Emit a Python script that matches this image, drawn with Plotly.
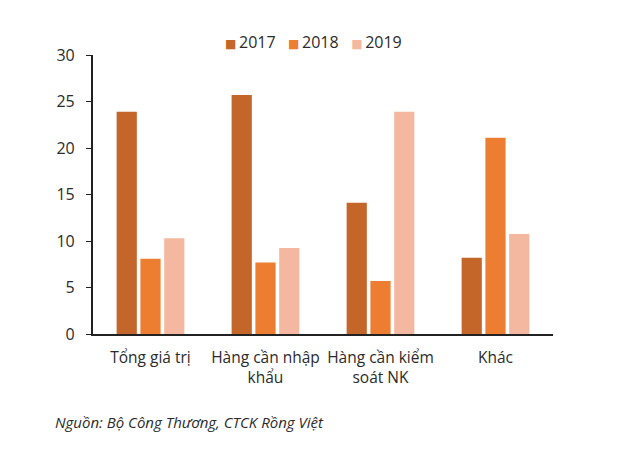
import plotly.graph_objects as go

categories = ["Tổng giá trị", "Hàng cần nhập<br>khẩu", "Hàng cần kiểm<br>soát NK", "Khác"]
years = ["2017", "2018", "2019"]
values_2017 = [23.9, 25.7, 14.1, 8.2]
values_2018 = [8.1, 7.7, 5.7, 21.1]
values_2019 = [10.3, 9.25, 23.9, 10.75]
colors = ["#C4652A", "#ED7D31", "#F4B8A1"]

fig = go.Figure()
for name, vals, col in zip(years, [values_2017, values_2018, values_2019], colors):
    fig.add_trace(go.Bar(x=categories, y=vals, name=name, marker_color=col,
                         marker_line_width=0))

# compact legend as one line of text (plotly's own legend spaces items too wide)
legend_text = "\u00a0\u00a0\u00a0".join(
    "<span style='color:%s;font-family:DejaVu Sans;font-size:12px'>\u25a0</span>"
    "\u2009%s" % (c, y)
    for y, c in zip(years, colors))

# page body has an 8px default margin, so the figure is a bit smaller than the window
font_family = "Open Sans, DejaVu Sans, sans-serif"
fig.update_layout(
    width=622, height=443,
    margin=dict(l=85, r=77, t=47, b=117, autoexpand=False),
    paper_bgcolor="white", plot_bgcolor="white",
    font=dict(family=font_family, size=15, color="#2b2b2b"),
    barmode="group", bargap=0.38, bargroupgap=0.15,
    showlegend=False,
    xaxis=dict(showline=True, linecolor="#222", linewidth=2, ticks="",
               tickfont=dict(size=15.5), showgrid=False, automargin=False,
               ticklabelstandoff=8),
    yaxis=dict(range=[0, 30], dtick=5, showline=True, linecolor="#222", linewidth=1.5,
               ticks="outside", ticklen=5, tickcolor="#222", showgrid=False,
               zeroline=False, tickfont=dict(size=16), ticksuffix="  ",
               automargin=False),
)

fig.add_annotation(text=legend_text, xref="paper", yref="paper", x=0.48, y=1.047,
                   xanchor="center", yanchor="middle", showarrow=False,
                   font=dict(size=16, color="#2b2b2b"))

fig.add_annotation(text="<i>Nguồn: Bộ Công Thương, CTCK Rồng Việt</i>",
                   xref="paper", yref="paper", x=-0.087, y=-0.315,
                   xanchor="left", yanchor="middle", showarrow=False,
                   font=dict(size=15, color="#2b2b2b"))

fig.write_html("out.html")
